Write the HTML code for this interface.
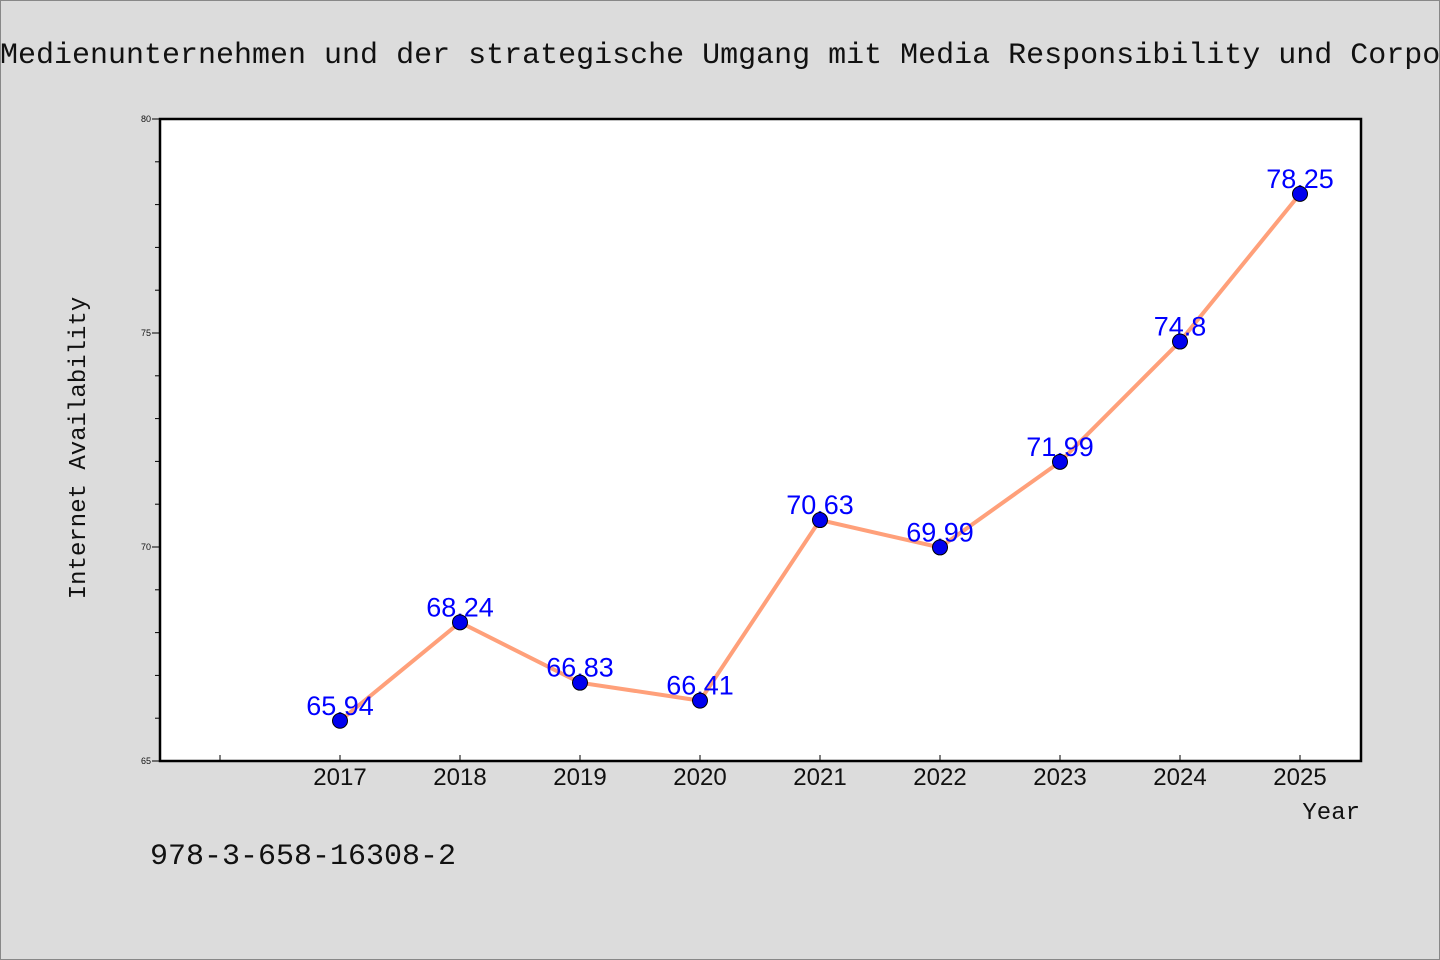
<!DOCTYPE html>
<html><head><meta charset="utf-8"><style>
html,body{margin:0;padding:0;background:#dcdcdc;}
svg{display:block;}
</style></head><body>
<svg width="1440" height="960" xmlns="http://www.w3.org/2000/svg">
<rect x="0.5" y="0.5" width="1439" height="959" fill="#dcdcdc" stroke="#888"/>
<text x="0" y="63" font-family="'Liberation Mono', 'WenQuanYi Zen Hei', monospace" font-size="30" fill="#111">Medienunternehmen und der strategische Umgang mit Media Responsibility und Corporate</text>
<rect x="160" y="119" width="1201" height="642" fill="#fff" stroke="#000" stroke-width="2.5"/>
<g id="axes"></g>
<path id="line" fill="none" stroke="#ffa07a" stroke-width="4"/>
<g id="marks"></g>
<text x="1360" y="819" text-anchor="end" font-family="'Liberation Mono', monospace" font-size="24" fill="#111">Year</text>
<text transform="translate(85,448) rotate(-90)" text-anchor="middle" font-family="'Liberation Mono', monospace" font-size="24" fill="#111">Internet Availability</text>
<text x="150" y="864" font-family="'Liberation Mono', monospace" font-size="30" fill="#111">978-3-658-16308-2</text>
</svg>
<script>
const years = [2017,2018,2019,2020,2021,2022,2023,2024,2025];
const values = [65.94,68.24,66.83,66.41,70.63,69.99,71.99,74.8,78.25];
const labels = ["65.94","68.24","66.83","66.41","70.63","69.99","71.99","74.8","78.25"];
const yTicks = [65,70,75,80];
const NS="http://www.w3.org/2000/svg";
const xs = y => 160 + (y-2015.5)*120;
const ys = v => 761 - (v-65)*42.8;
const axes=document.getElementById('axes');
function mk(tag,attrs,parent){const e=document.createElementNS(NS,tag);for(const k in attrs)e.setAttribute(k,attrs[k]);parent.appendChild(e);return e;}
for(let y=2016;y<=2025;y++){
  const t=mk('line',{x1:xs(y),x2:xs(y),y1:761,y2:755,stroke:'#000'},axes);
  
  
}
years.forEach(y=>{
  const t=mk('text',{x:xs(y),y:785,'text-anchor':'middle','font-family':"'Liberation Sans', sans-serif",'font-size':24,fill:'#111'},axes);
  t.textContent=y;
  
  
});
for(let v=65;v<=80;v++){
  const major=(v%5===0);
  const t=mk('line',{x1:160,x2:major?152:155,y1:ys(v),y2:ys(v),stroke:'#000'},axes);
  
  
}
yTicks.forEach(v=>{
  const t=mk('text',{x:151,y:ys(v)+3,'text-anchor':'end','font-family':"'Liberation Sans', sans-serif",'font-size':9,fill:'#111'},axes);
  t.textContent=v;
  
  
});
document.getElementById('line').setAttribute('d',years.map((y,i)=>(i?'L':'M')+xs(y)+','+ys(values[i])).join(' '));
const marks=document.getElementById('marks');
years.forEach((y,i)=>{
  const t=mk('text',{x:xs(y),y:ys(values[i])-6,'text-anchor':'middle','font-family':"'Liberation Sans', sans-serif",'font-size':27,fill:'#0000ff'},marks);
  t.textContent=labels[i];
  
  
});
years.forEach((y,i)=>{
  const c=mk('circle',{cx:xs(y),cy:ys(values[i]),r:7.5,fill:'#0000ee',stroke:'#000','stroke-width':1},marks);
  
  
});
</script>
</body></html>
